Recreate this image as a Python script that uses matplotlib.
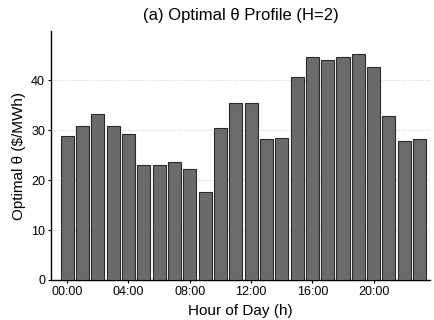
import matplotlib.pyplot as plt
import numpy as np

plt.rcParams['font.family'] = ['Liberation Sans', 'DejaVu Sans']

hours = np.arange(24)
theta = [28.9, 30.8, 33.2, 30.8, 29.3, 23.0, 23.0, 23.6, 22.3, 17.7, 30.4, 35.5,
         35.5, 28.2, 28.5, 40.7, 44.7, 44.1, 44.6, 45.2, 42.7, 32.9, 27.8, 28.3]
tick_hours = [0, 4, 8, 12, 16, 20]
tick_labels = ['00:00', '04:00', '08:00', '12:00', '16:00', '20:00']

fig, ax = plt.subplots(figsize=(4.35, 3.2), dpi=100)
fig.subplots_adjust(left=0.118, right=0.989, top=0.903, bottom=0.125)

ax.bar(hours, theta, width=0.85, color='#6b6b6b', edgecolor='#2b2b2b',
       linewidth=0.8, zorder=3)

ax.set_xlim(-1.03, 23.69)
ax.set_ylim(0, 49.8)
ax.set_yticks([0, 10, 20, 30, 40])
ax.set_xticks(tick_hours)
ax.set_xticklabels(tick_labels)
ax.yaxis.grid(True, linestyle=':', color='#cccccc', linewidth=0.8, zorder=0)

for side in ['top', 'right']:
    ax.spines[side].set_visible(False)
ax.spines['left'].set_linewidth(1.0)
ax.spines['bottom'].set_linewidth(1.0)
ax.tick_params(axis='both', labelsize=9, length=2.5, width=0.8, pad=2)

ax.set_title('(a) Optimal θ Profile (H=2)', fontsize=12, pad=8)
ax.set_xlabel('Hour of Day (h)', fontsize=11, labelpad=4)
ax.set_ylabel('Optimal θ ($/MWh)', fontsize=11, labelpad=4)

fig.savefig('out.png', dpi=100)
